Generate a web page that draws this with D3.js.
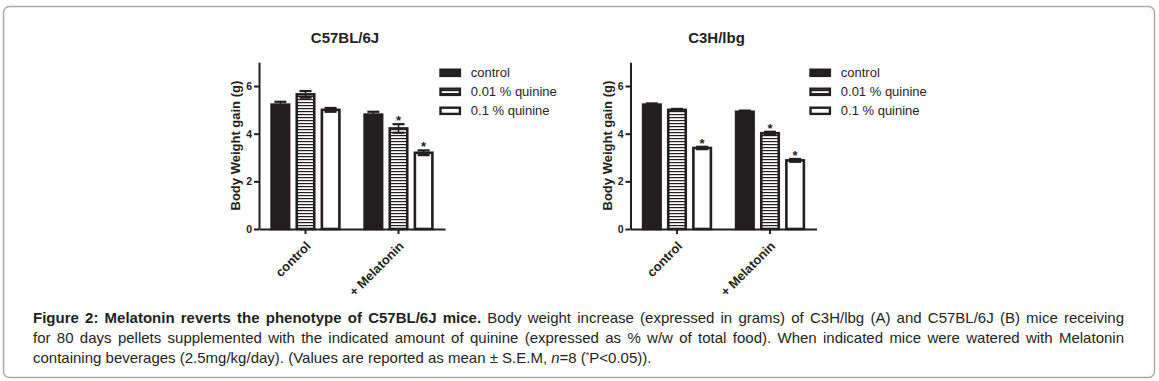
<!DOCTYPE html>
<html lang="en">
<head>
  <meta charset="UTF-8">
  <title>Melatonin body weight gain</title>
  <script src="https://d3js.org/d3.v7.min.js"></script>
  <style>
    body { margin: 0; background: #fff; }
    text { font-family: Arial, "Liberation Sans", sans-serif; fill: #231f20; }
    .axis path, .axis line { stroke: #231f20; stroke-width: 2; }
  </style>
</head>
<body>
  <script>
    // categories and series
    const groups = ["control", "+ Melatonin"];
    const series = ["control", "0.01 % quinine", "0.1 % quinine"];
    const yTicks = [0, 2, 4, 6];

    // C57BL/6J panel, rows = groups, cols = series
    const c57Means = [[5.22, 5.65, 5.0], [4.8, 4.22, 3.2]];
    const c57Sem = [[0.12, 0.14, 0.08], [0.12, 0.18, 0.1]];
    const c57Sig = [[false, false, false], [false, true, true]];

    // C3H/lbg panel
    const c3hMeans = [[5.22, 5.0, 3.4], [4.92, 4.02, 2.88]];
    const c3hSem = [[0.05, 0.04, 0.05], [0.05, 0.06, 0.06]];
    const c3hSig = [[false, false, true], [false, true, true]];

    const ink = "#231f20";
    const width = 1159, height = 381;

    const svg = d3.select("body").append("svg")
      .attr("width", width)
      .attr("height", height);

    // figure frame
    svg.append("rect")
      .attr("x", 3.5).attr("y", 6.5)
      .attr("width", 1151).attr("height", 371)
      .attr("rx", 6)
      .attr("fill", "#fff")
      .attr("stroke", "#aaa")
      .attr("stroke-width", 1.5);

    // hatch pattern for the 0.01 % bars
    const pat = svg.append("defs").append("pattern")
      .attr("id", "hatch")
      .attr("patternUnits", "userSpaceOnUse")
      .attr("width", 6).attr("height", 3);
    pat.append("rect").attr("width", 6).attr("height", 3).attr("fill", "#fff");
    pat.append("rect").attr("width", 6).attr("height", 1.2).attr("fill", ink);

    const fills = [ink, "url(#hatch)", "#fff"];

    function drawPanel(title, means, sems, sig, axisX, legendX) {
      const y = d3.scaleLinear().domain([0, 7]).range([229, 62.2]);
      const x = d3.scaleBand().domain(groups).range([axisX, axisX + 186]);
      const xs = d3.scaleBand().domain(series).range([0, x.bandwidth()])
        .paddingInner(0.2).paddingOuter(0.45);
      const sw = 2.6;

      const g = svg.append("g");

      // title
      g.append("text")
        .attr("x", axisX + 86).attr("y", 43)
        .attr("text-anchor", "middle")
        .attr("font-size", 15).attr("font-weight", "bold")
        .text(title);

      // bars
      groups.forEach((grp, gi) => {
        series.forEach((s, si) => {
          const m = means[gi][si], e = sems[gi][si];
          const bx = x(grp) + xs(s);
          const cx = bx + xs.bandwidth() / 2;
          g.append("rect")
            .attr("x", bx + sw / 2)
            .attr("y", y(m))
            .attr("width", xs.bandwidth() - sw)
            .attr("height", y(0) - y(m))
            .attr("fill", fills[si])
            .attr("stroke", ink)
            .attr("stroke-width", sw);

          // error bar
          const eb = g.append("g").attr("stroke", ink);
          eb.append("line")
            .attr("x1", cx).attr("x2", cx)
            .attr("y1", y(m - e)).attr("y2", y(m + e))
            .attr("stroke-width", 1.6);
          [m - e, m + e].forEach(v => {
            eb.append("line")
              .attr("x1", cx - 6).attr("x2", cx + 6)
              .attr("y1", y(v)).attr("y2", y(v))
              .attr("stroke-width", 2.2);
          });

          if (sig[gi][si]) {
            g.append("text")
              .attr("x", cx).attr("y", y(m + e) + 1)
              .attr("text-anchor", "middle")
              .attr("font-size", 13).attr("font-weight", "bold")
              .text("*");
          }
        });
      });

      // y axis
      const ya = g.append("g").attr("class", "axis")
        .attr("transform", `translate(${axisX},0)`)
        .call(d3.axisLeft(y).tickValues(yTicks).tickFormat(d3.format("d"))
          .tickSize(5).tickSizeOuter(0).tickPadding(2));
      ya.selectAll("text")
        .attr("font-size", 10.5).attr("font-weight", "bold")
        .attr("font-family", "Arial, 'Liberation Sans', sans-serif")
        .attr("fill", ink);

      // x axis
      const xa = g.append("g").attr("class", "axis")
        .attr("transform", `translate(0,${y(0)})`)
        .call(d3.axisBottom(x).tickSize(5).tickSizeOuter(0));
      xa.selectAll("text").remove();
      groups.forEach(grp => {
        const tx = x(grp) + x.bandwidth() / 2;
        g.append("text")
          .attr("transform", `translate(${tx + 6},247) rotate(-45)`)
          .attr("text-anchor", "end")
          .attr("font-size", 12.8).attr("font-weight", "bold")
          .text(grp);
      });

      // y label
      g.append("text")
        .attr("transform", `translate(${axisX - 19},${(y(0) + y(7)) / 2}) rotate(-90)`)
        .attr("text-anchor", "middle")
        .attr("font-size", 13).attr("font-weight", "bold")
        .text("Body Weight gain (g)");

      // legend
      series.forEach((s, si) => {
        const ly = 68.5 + si * 19;
        g.append("rect")
          .attr("x", legendX + 1.2).attr("y", ly + 1.2)
          .attr("width", 19.4).attr("height", 6.2)
          .attr("fill", fills[si])
          .attr("stroke", ink)
          .attr("stroke-width", 2.4);
        g.append("text")
          .attr("x", legendX + 31.5).attr("y", ly + 8)
          .attr("font-size", 13)
          .text(s);
      });
    }

    drawPanel("C57BL/6J", c57Means, c57Sem, c57Sig, 259, 439.3);
    drawPanel("C3H/lbg", c3hMeans, c3hSem, c3hSig, 630.5, 809.3);

    // caption, justified lines
    const capX = 33, capW = 1091;
    const cap = svg.append("g").attr("font-size", 15);

    function justify(t) {
      const n = (t.text().match(/ /g) || []).length;
      const L = t.node().getComputedTextLength();
      t.attr("word-spacing", (capW - L) / n);
    }

    const l1 = cap.append("text").attr("x", capX).attr("y", 323);
    l1.append("tspan").attr("font-weight", "bold")
      .text("Figure 2: Melatonin reverts the phenotype of C57BL/6J mice.");
    l1.append("tspan")
      .text(" Body weight increase (expressed in grams) of C3H/lbg (A) and C57BL/6J (B) mice receiving");
    justify(l1);

    const l2 = cap.append("text").attr("x", capX).attr("y", 343)
      .text("for 80 days pellets supplemented with the indicated amount of quinine (expressed as % w/w of total food). When indicated mice were watered with Melatonin");
    justify(l2);

    const l3 = cap.append("text").attr("x", capX).attr("y", 363);
    l3.append("tspan").text("containing beverages (2.5mg/kg/day). (Values are reported as mean ± S.E.M, ");
    l3.append("tspan").attr("font-style", "italic").text("n");
    l3.append("tspan").text("=8 (");
    l3.append("tspan").attr("font-size", 9).attr("dy", -5).text("*");
    l3.append("tspan").attr("dy", 5).text("P<0.05)).");
  </script>
</body>
</html>
